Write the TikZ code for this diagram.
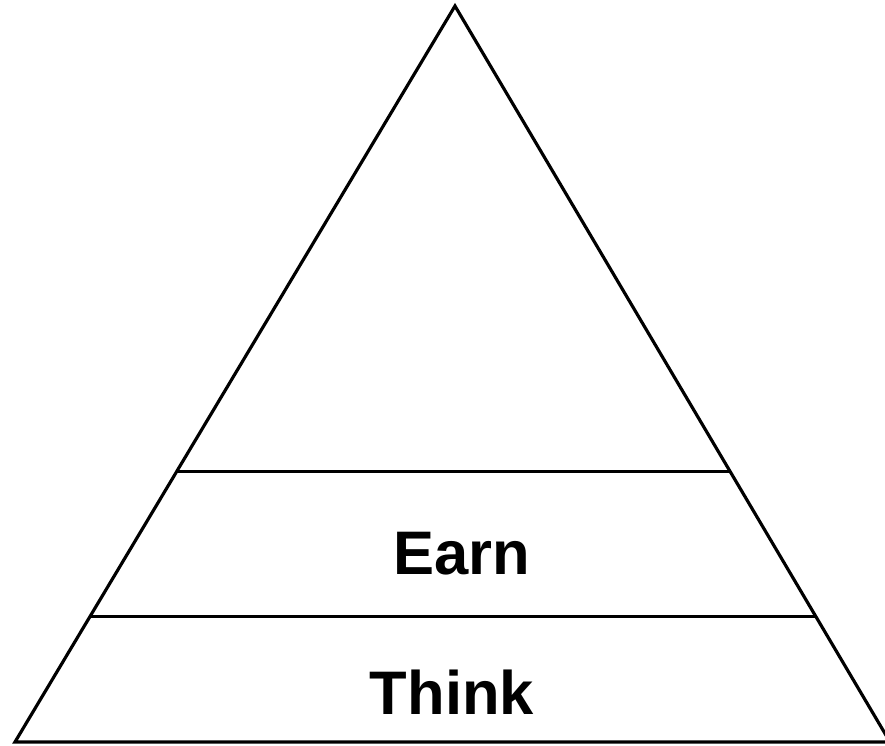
\documentclass[tikz,border=0pt]{standalone}
\usepackage{fontspec}
\setmainfont{Liberation Sans}
\usetikzlibrary{calc}
\begin{document}
\begin{tikzpicture}[
      every node/.style={font=\fontsize{17.5}{20}\selectfont\bfseries, inner sep=0pt},
      borde/.style={draw, line width=0.9pt, line join=miter},
      nivel/.style={anchor=base}
    ]
    % Marco de la figura
    \useasboundingbox (0,0) rectangle (8.85,7.46);
    \clip (0,0) rectangle (8.85,7.46);
    % Vertices de la piramide
    \coordinate (cima) at (4.55,7.40);
    \coordinate (izq)  at (0.15,0.04);
    \coordinate (der)  at (8.90,0.04);
    \draw[borde] (cima) -- (izq) -- (der) -- cycle;
    % Divisiones horizontales
    \coordinate (a1) at ($(cima)!0.632!(izq)$);
    \coordinate (b1) at ($(cima)!0.632!(der)$);
    \coordinate (a2) at ($(cima)!0.830!(izq)$);
    \coordinate (b2) at ($(cima)!0.830!(der)$);
    \draw[borde] (a1) -- (b1);
    \draw[borde] (a2) -- (b2);
    % Etiquetas de los niveles
    \node[nivel] (earn)  at (4.62,1.71) {Earn};
    \node[nivel] (think) at (4.52,0.31) {Think};
  \end{tikzpicture}
\end{document}
